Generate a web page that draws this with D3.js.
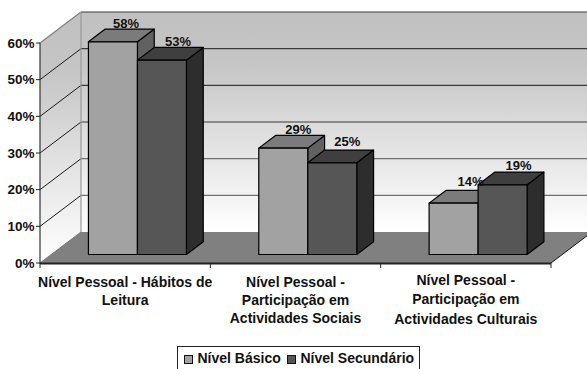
<!DOCTYPE html>
<html>
<head>
<meta charset="utf-8">
<script src="https://cdn.jsdelivr.net/npm/d3@7/dist/d3.min.js"></script>
<style>
html, body { margin: 0; padding: 0; background: #fff; overflow: hidden; }
svg { display: block; }
text { font-family: "Liberation Sans", Arial, sans-serif; font-weight: bold; fill: #111; }
</style>
</head>
<body>
<svg id="chart" width="587" height="369"></svg>
<script>
// Chart content
const categories = [
  ["Nível Pessoal - Hábitos de", "Leitura"],
  ["Nível Pessoal -", "Participação em", "Actividades Sociais"],
  ["Nível Pessoal -", "Participação em", "Actividades Culturais"]
];
const seriesNames = ["Nível Básico", "Nível Secundário"];
const basico = [58, 29, 14];
const secundario = [53, 25, 19];
const yTicks = [0, 10, 20, 30, 40, 50, 60];

// Per-series faces of the extruded bars
const faceColors = [
  { front: "#a2a2a2", top: "#7b7b7b", side: "#616161" },
  { front: "#565656", top: "#3f3f3f", side: "#2d2d2d" }
];

// Small hand placement of value labels and category lines
const labelNudge = [
  [[-2, 1], [0, 0], [2, -3]],
  [[1, 0], [0, -2], [1, 0]]
];
const catFirstBaseline = [286.5, 286.5, 284.5];
const catLineStep = [18.4, 18.4, 19.8];

const svg = d3.select("#chart");

// Oblique projection: depth runs up and to the right
const wallDx = 41, wallDy = -31;
const project = (x, y, d) => [x + wallDx * d, y + wallDy * d];
const barFrontDepth = 0.275;
const barBackDepth = 0.685;

const x = d3.scaleBand().domain(d3.range(categories.length)).range([40, 551]);
const y = d3.scaleLinear().domain([0, 60]).range([263, 43]);

const poly = pts => "M" + pts.map(p => p.join(",")).join("L") + "Z";

const defs = svg.append("defs");
const grad = defs.append("linearGradient").attr("id", "wallFill").attr("x1", 0).attr("y1", 0).attr("x2", 0).attr("y2", 1);
grad.append("stop").attr("offset", "0%").attr("stop-color", "#c0c0c0");
grad.append("stop").attr("offset", "25%").attr("stop-color", "#c6c6c6");
grad.append("stop").attr("offset", "55%").attr("stop-color", "#dedede");
grad.append("stop").attr("offset", "100%").attr("stop-color", "#ffffff");

const xL = x.range()[0], xR = x.range()[1];
const y0 = y(0), yT = y(60);

// Walls
svg.append("path")
  .attr("d", poly([project(xL, yT, 1), project(xR, yT, 1), project(xR, y0, 1), project(xL, y0, 1)]))
  .attr("fill", "url(#wallFill)");
svg.append("path")
  .attr("d", poly([[xL, yT], project(xL, yT, 1), project(xL, y0, 1), [xL, y0]]))
  .attr("fill", "url(#wallFill)");

// Floor
svg.append("path")
  .attr("d", poly([[xL, y0], [xR, y0], project(xR, y0, 1), project(xL, y0, 1)]))
  .attr("fill", "#808080");
svg.append("line")
  .attr("x1", xR).attr("y1", y0)
  .attr("x2", project(xR, y0, 1)[0]).attr("y2", project(xR, y0, 1)[1])
  .attr("stroke", "#111").attr("stroke-width", 1);

// Gridlines across both walls
yTicks.filter(t => t > 0).forEach(t => {
  const a = project(xL, y(t), 1), b = project(xR, y(t), 1);
  svg.append("line").attr("x1", a[0]).attr("y1", a[1]).attr("x2", b[0]).attr("y2", b[1])
    .attr("stroke", t < 30 ? "#707070" : "#3a3a3a").attr("stroke-width", 1.2);
  if (t < 60) {
    svg.append("line").attr("x1", xL).attr("y1", y(t)).attr("x2", a[0]).attr("y2", a[1])
      .attr("stroke", "#1a1a1a").attr("stroke-width", 1);
  }
});

// Wall edges
svg.append("line").attr("x1", xL).attr("y1", yT)
  .attr("x2", project(xL, yT, 1)[0]).attr("y2", project(xL, yT, 1)[1])
  .attr("stroke", "#808080").attr("stroke-width", 1.2);
svg.append("line").attr("x1", project(xL, yT, 1)[0]).attr("y1", project(xL, yT, 1)[1])
  .attr("x2", project(xL, y0, 1)[0]).attr("y2", project(xL, y0, 1)[1])
  .attr("stroke", "#999").attr("stroke-width", 1.2);
svg.append("line").attr("x1", xL).attr("y1", y0)
  .attr("x2", project(xL, y0, 1)[0]).attr("y2", project(xL, y0, 1)[1])
  .attr("stroke", "#777").attr("stroke-width", 1);

// Bars, drawn with the oblique offsets applied to the band geometry
const barW = 49;
const barLeft = (i, s) => x(i) + x.bandwidth() / 2 + wallDx * barFrontDepth + 1 + (s - 1) * barW;
[basico, secundario].forEach((vals, s) => {
  vals.forEach((v, i) => {
    const c = faceColors[s];
    const x0 = barLeft(i, s);
    const x1 = x0 + barW;
    const yb = y(0) + wallDy * barFrontDepth;
    const yt = y(v) + wallDy * barFrontDepth;
    const dx = wallDx * (barBackDepth - barFrontDepth);
    const dy = wallDy * (barBackDepth - barFrontDepth);
    const g = svg.append("g").attr("stroke", "#000").attr("stroke-width", 1.2).attr("stroke-linejoin", "round");
    g.append("path").attr("fill", c.side)
      .attr("d", poly([[x1, yt], [x1 + dx, yt + dy], [x1 + dx, yb + dy], [x1, yb]]));
    g.append("path").attr("fill", c.top)
      .attr("d", poly([[x0, yt], [x0 + dx, yt + dy], [x1 + dx, yt + dy], [x1, yt]]));
    g.append("path").attr("fill", c.front)
      .attr("d", poly([[x0, yt], [x1, yt], [x1, yb], [x0, yb]]));
  });
});

// Value labels go on top of every bar
[basico, secundario].forEach((vals, s) => {
  vals.forEach((v, i) => {
    svg.append("text")
      .attr("x", barLeft(i, s) + barW / 2 + 15 + labelNudge[s][i][0])
      .attr("y", y(v) + wallDy * barFrontDepth - 14.5 + labelNudge[s][i][1])
      .attr("text-anchor", "middle")
      .attr("font-size", 13)
      .text(v + "%");
  });
});

// Front axes
svg.append("line").attr("x1", xL).attr("y1", yT).attr("x2", xL).attr("y2", y0 + 1)
  .attr("stroke", "#333").attr("stroke-width", 1.2);
svg.append("line").attr("x1", xL).attr("y1", y0 + 0.5).attr("x2", xR).attr("y2", y0 + 0.5)
  .attr("stroke", "#222").attr("stroke-width", 2);

yTicks.forEach(t => {
  svg.append("line").attr("x1", xL - 4).attr("x2", xL).attr("y1", y(t)).attr("y2", y(t))
    .attr("stroke", "#222").attr("stroke-width", 1);
  svg.append("text").attr("x", 34.5).attr("y", y(t) + 4.5)
    .attr("text-anchor", "end").attr("font-size", 13.5).text(t + "%");
});

const boundaries = categories.map((_, i) => x(i)).concat(xR);
boundaries.forEach(b => {
  svg.append("line").attr("x1", b).attr("x2", b).attr("y1", y0).attr("y2", y0 + 5)
    .attr("stroke", "#222").attr("stroke-width", 1);
});

// Category labels
categories.forEach((lines, i) => {
  const t = svg.append("text").attr("text-anchor", "middle").attr("font-size", 14);
  lines.forEach((ln, k) => {
    t.append("tspan").attr("x", x(i) + x.bandwidth() / 2).attr("y", catFirstBaseline[i] + k * catLineStep[i]).text(ln);
  });
});

// Legend
const legend = svg.append("g");
legend.append("rect").attr("x", 177.5).attr("y", 346.5).attr("width", 242).attr("height", 30)
  .attr("fill", "#fff").attr("stroke", "#222").attr("stroke-width", 1);
const swatchX = [184.5, 287.5];
seriesNames.forEach((name, s) => {
  legend.append("rect").attr("x", swatchX[s]).attr("y", 355.5).attr("width", 8).attr("height", 8)
    .attr("fill", faceColors[s].front).attr("stroke", "#111").attr("stroke-width", 1);
  legend.append("text").attr("x", swatchX[s] + 13).attr("y", 362.5).attr("font-size", 14).text(name);
});
</script>
</body>
</html>
